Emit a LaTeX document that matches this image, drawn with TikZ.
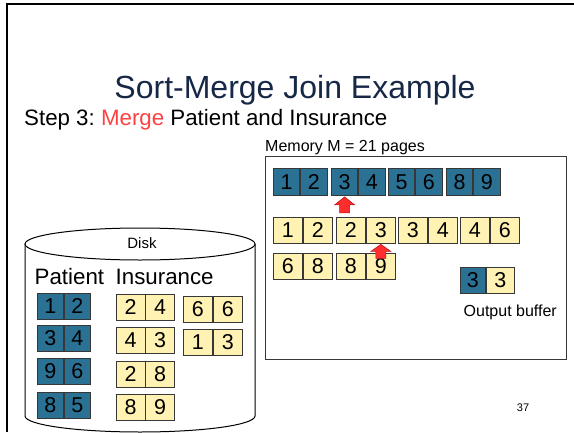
\documentclass[tikz,border=0pt]{standalone}
\usepackage{fontspec}
\setmainfont{Liberation Sans}
\frenchspacing
\definecolor{bluefill}{RGB}{43,113,148}
\definecolor{yelfill}{RGB}{255,242,178}
\definecolor{cellline}{RGB}{55,55,55}
\definecolor{titlecol}{RGB}{22,40,70}
\definecolor{mergered}{RGB}{255,64,64}
\definecolor{arrowfill}{RGB}{255,45,45}
\definecolor{arrowline}{RGB}{185,25,25}
\newcommand\pairnodes[8]{%
  \node[cell,#6,minimum width=#4pt,minimum height=#5pt,anchor=north west] (#1a) at (#2,#3) {#7};
  \node[cell,#6,minimum width=#4pt,minimum height=#5pt,anchor=west] (#1b) at (#1a.east) {#8};}
\begin{document}
\begin{tikzpicture}[x=1pt,y=-1pt,
  cell/.style={draw=cellline,line width=0.9pt,inner sep=0pt,font=\fontsize{21.5}{21.5}\selectfont},
  bcell/.style={fill=bluefill},
  ycell/.style={fill=yelfill},
  redarrow/.style={fill=arrowfill,draw=arrowline,line width=0.6pt,line join=miter},
  lbl/.style={inner sep=0pt,anchor=base west}]
\useasboundingbox (0,0) rectangle (574,432);
% slide frame
\draw[line width=2.3pt] (7,432) -- (7,4.2) -- (580,4.2);
% title and subtitle
\node[inner sep=0pt,anchor=base,text=titlecol,font=\fontsize{32}{32}\selectfont] (title) at (295,98) {Sort-Merge Join Example};
\node[lbl,font=\fontsize{22.3}{23}\selectfont] (step) at (24,125) {Step 3: \textcolor{mergered}{Merge} Patient and Insurance};
% memory
\node[lbl,font=\fontsize{16}{16}\selectfont] (memlbl) at (265,151) {Memory M = 21 pages};
\node[draw=cellline,line width=1.1pt,minimum width=301pt,minimum height=203pt,anchor=north west,inner sep=0pt] (mem) at (264.5,155.5) {};
\pairnodes{m1}{273}{168}{26.3}{27}{bcell}{1}{2}
\pairnodes{m2}{331}{168}{26.3}{27}{bcell}{3}{4}
\pairnodes{m3}{388}{168}{26.3}{27}{bcell}{5}{6}
\pairnodes{m4}{446}{168}{26.3}{27}{bcell}{8}{9}
\pairnodes{y1}{273}{217}{29}{26}{ycell}{1}{2}
\pairnodes{y2}{336}{217}{29}{26}{ycell}{2}{3}
\pairnodes{y3}{398}{217}{29}{26}{ycell}{3}{4}
\pairnodes{y4}{460}{217}{29}{26}{ycell}{4}{6}
\pairnodes{y5}{273}{253}{29}{25.5}{ycell}{6}{8}
\pairnodes{y6}{336}{253}{29}{25.5}{ycell}{8}{9}
\node[cell,bcell,minimum width=25pt,minimum height=26pt,anchor=north west] (oa) at (460,267) {3};
\node[cell,ycell,minimum width=28pt,minimum height=26pt,anchor=west] (ob) at (oa.east) {3};
\node[lbl,font=\fontsize{16}{16}\selectfont] (outlbl) at (463.5,316) {Output buffer};
% pointer arrows
\draw[redarrow] ([yshift=-1pt]m2a.south) -- ++(10,8) -- ++(-5,0) -- ++(0,8) -- ++(-10,0) -- ++(0,-8) -- ++(-5,0) -- cycle;
\draw[redarrow] ([yshift=-0.5pt]y2b.south) -- ++(10,7) -- ++(-5,0) -- ++(0,7) -- ++(-10,0) -- ++(0,-7) -- ++(-5,0) -- cycle;
% disk cylinder
\filldraw[fill=white,draw=black,line width=1pt] (25,244) -- (25,416) arc[start angle=180,end angle=0,x radius=115,y radius=16] -- (255,244);
\draw[line width=1pt] (140,244) ellipse [x radius=115, y radius=16];
\node[lbl,anchor=base,font=\fontsize{15}{15}\selectfont] (disk) at (142,248) {Disk};
\node[lbl,font=\fontsize{22.3}{23}\selectfont] (patient) at (34.5,284) {Patient};
\node[lbl,font=\fontsize{22.3}{23}\selectfont] (insur) at (115.5,284) {Insurance};
\pairnodes{p1}{37}{293}{26}{26}{bcell}{1}{2}
\pairnodes{p2}{37}{325}{26}{26}{bcell}{3}{4}
\pairnodes{p3}{37}{358}{26}{26}{bcell}{9}{6}
\pairnodes{p4}{37}{392}{26}{26}{bcell}{8}{5}
\pairnodes{i1}{116}{294}{28.5}{26}{ycell}{2}{4}
\pairnodes{i2}{116}{327}{28.5}{26}{ycell}{4}{3}
\pairnodes{i3}{116}{361}{28.5}{26}{ycell}{2}{8}
\pairnodes{i4}{116}{394}{28.5}{26}{ycell}{8}{9}
\pairnodes{i5}{183}{296}{29}{26}{ycell}{6}{6}
\pairnodes{i6}{183}{329}{29}{26}{ycell}{1}{3}
% page number
\node[inner sep=0pt,anchor=base,font=\fontsize{11}{11}\selectfont] (pnum) at (523,411) {37};
\end{tikzpicture}
\end{document}
